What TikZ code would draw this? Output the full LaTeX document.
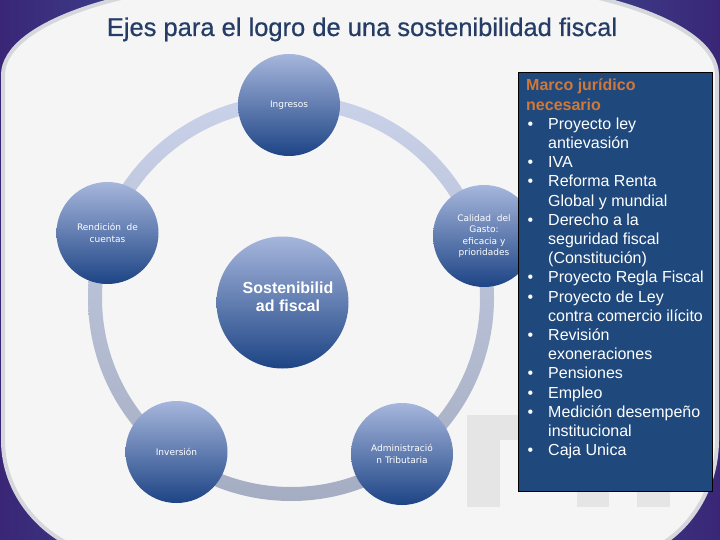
\documentclass[tikz,border=0pt]{standalone}
\usepackage{fontspec}
\setmainfont{Liberation Sans}
\newfontfamily\verd{DejaVu Sans}
\newfontfamily\titlefont[FakeBold=0.6]{Liberation Sans}
\definecolor{bgpurple}{HTML}{3A2676}
\definecolor{bgblue}{HTML}{3E6CB0}
\definecolor{panel}{HTML}{F5F5F5}
\definecolor{panelshadow}{HTML}{D6D6DD}
\definecolor{ringtop}{HTML}{C9D2E9}
\definecolor{ringbot}{HTML}{A5ADC2}
\definecolor{balltop}{HTML}{A6B6DC}
\definecolor{ballbot}{HTML}{1D4485}
\definecolor{titleblue}{HTML}{253D66}
\definecolor{boxblue}{HTML}{1F497D}
\definecolor{headorange}{HTML}{D0783A}
\definecolor{wm}{HTML}{E5E5E5}
\newcommand{\bul}{\makebox[22pt][l]{\hspace{1.5pt}•}}
\newcommand{\ind}{\hspace*{22pt}}
\tikzset{
  ball/.style={circle, top color=balltop, bottom color=ballbot, draw=none,
    minimum size=102pt, inner sep=0pt, text=white, align=center,
    font=\verd\fontsize{9}{11.5}\selectfont},
  ringstyle/.style={even odd rule, top color=ringtop, bottom color=ringbot}
}
\begin{document}
\begin{tikzpicture}[x=1pt,y=-1pt]
\useasboundingbox (0,0) rectangle (720,540);
% background
\shade[left color=bgpurple, right color=bgpurple, middle color=bgblue] (0,0) rectangle (720,540);
% white panel
\path[fill=panel, draw=panelshadow, line width=4pt]
  (3,75) arc[start angle=180, end angle=270, x radius=285, y radius=95]
  -- (432,-20) arc[start angle=270, end angle=360, x radius=285, y radius=95]
  -- (717,440) arc[start angle=0, end angle=90, x radius=110, y radius=120]
  -- (133,560) arc[start angle=90, end angle=180, x radius=130, y radius=120]
  -- cycle;
% watermark
\fill[wm] (467,415) rectangle (500,507);
\fill[wm] (500,415) rectangle (520,440);
\fill[wm] (577,491) rectangle (609,507);
\fill[wm] (637,491) rectangle (670,507);
% title
\node[font=\titlefont\fontsize{25.5}{30}\selectfont, text=titleblue, anchor=base, inner sep=0pt] (title) at (362,36) {Ejes para el logro de una sostenibilidad fiscal};
% ring
\path[ringstyle] (291,298) circle[radius=203] (291,298) circle[radius=189];
% balls
\node[ball] (ing) at (289,105) {Ingresos};
\node[ball] (ren) at (107.5,233) {Rendición\ \ de\\cuentas};
\node[ball] (cal) at (484,236) {Calidad\ \ del\\Gasto:\\eficacia y\\prioridades};
\node[ball] (inv) at (176.5,452) {Inversión};
\node[ball] (adm) at (402,454) {Administració\\n Tributaria};
\node[ball, minimum size=132pt] (sost) at (282.5,302.5) {};
\node[text=white, align=center, font=\bfseries\fontsize{16}{18}\selectfont] (sosttext) at (288,297) {Sostenibilid\\ad fiscal};
% box
\node[draw=black, fill=boxblue, line width=0.8pt, minimum width=194pt, minimum height=419pt, inner sep=0pt, anchor=north west] (box) at (518,72) {};
\node[anchor=north west, inner sep=0pt, align=left, text=white, font=\fontsize{16}{19.2}\selectfont] (list) at (526,76.7) {%
{\color{headorange}\bfseries\rule{0pt}{14pt}Marco jurídico}\\
{\color{headorange}\bfseries necesario}\\
\bul Proyecto ley\\
\ind antievasión\\
\bul IVA\\
\bul Reforma Renta\\
\ind Global y mundial\\
\bul Derecho a la\\
\ind seguridad fiscal\\
\ind (Constitución)\\
\bul Proyecto Regla Fiscal\\
\bul Proyecto de Ley\\
\ind contra comercio ilícito\\
\bul Revisión\\
\ind exoneraciones\\
\bul Pensiones\\
\bul Empleo\\
\bul Medición desempeño\\
\ind institucional\\
\bul Caja Unica};
\end{tikzpicture}
\end{document}
